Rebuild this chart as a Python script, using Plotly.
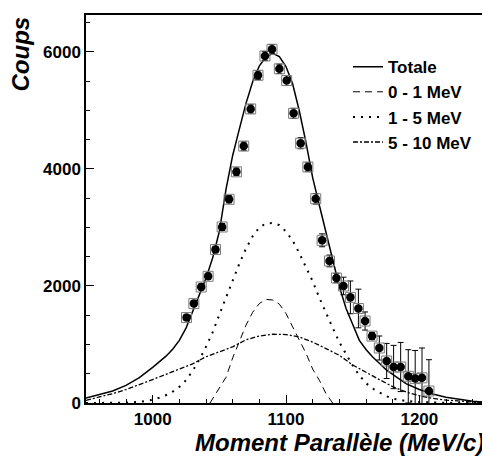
import plotly.graph_objects as go

# ---------------- data ----------------
data_x = [1025.4, 1030.9, 1036.4, 1041.6, 1047.1, 1052.1, 1057.3, 1062.8, 1068.3, 1073.5,
          1079.0, 1084.2, 1089.5, 1095.0, 1100.5, 1105.7, 1111.0, 1116.4, 1122.3, 1127.1,
          1132.6, 1137.8, 1143.1, 1148.3, 1154.3, 1159.3, 1164.5, 1170.0, 1175.5, 1180.7,
          1186.0, 1191.7, 1196.9, 1202.0, 1207.2]
data_y = [1460, 1699, 1982, 2165, 2622, 3008, 3481, 3950, 4390, 5025,
          5600, 5930, 6045, 5710, 5510, 4950, 4440, 4033, 3490, 2780,
          2427, 2136, 2000, 1805, 1615, 1401, 1143, 940, 718, 615,
          615, 456, 417, 430, 205]
data_err = [45, 50, 50, 55, 55, 60, 60, 65, 70, 70,
            75, 75, 78, 80, 85, 85, 95, 70, 90, 110,
            100, 80, 150, 280, 330, 155, 60, 205, 300, 370,
            420, 455, 480, 510, 535]

totale_x = [950, 960, 970, 980, 990, 1000, 1010, 1015, 1020, 1025, 1030, 1035, 1040, 1045,
            1050, 1055, 1060, 1065, 1070, 1075, 1080, 1085, 1090, 1095, 1100, 1105, 1110,
            1115, 1120, 1125, 1130, 1135, 1140, 1145, 1150, 1155, 1160, 1165, 1170, 1175,
            1180, 1190, 1200, 1210, 1220, 1230, 1240, 1250]
totale_y = [85, 145, 205, 300, 435, 610, 800, 920, 1070, 1280, 1560, 1860, 2130, 2480,
            2930, 3650, 4230, 4680, 5120, 5490, 5760, 5910, 5975, 5920, 5750, 5450, 4990,
            4450, 3850, 3380, 2900, 2450, 1990, 1620, 1330, 1070, 915, 786, 680, 570,
            490, 332, 230, 155, 100, 60, 30, 12]

bin01_x = [1043, 1050, 1055, 1060, 1065, 1070, 1075, 1080, 1085, 1090, 1095, 1100, 1105,
           1110, 1115, 1120, 1125, 1130, 1135]
bin01_y = [0, 250, 440, 770, 1060, 1330, 1550, 1700, 1770, 1760, 1690, 1530, 1300,
           1080, 850, 580, 390, 160, 0]

bin15_x = [950, 970, 980, 990, 998, 1005, 1013, 1020, 1025, 1030, 1035, 1040, 1045, 1050,
           1055, 1060, 1065, 1070, 1075, 1080, 1085, 1090, 1095, 1100, 1105, 1110, 1115,
           1120, 1125, 1130, 1135, 1140, 1145, 1150, 1155, 1160, 1165, 1170, 1175, 1180,
           1190, 1200, 1210, 1220, 1250]
bin15_y = [0, 2, 5, 20, 46, 90, 160, 275, 390, 550, 740, 960, 1210, 1510,
           1800, 2100, 2380, 2640, 2850, 3000, 3070, 3075, 3040, 2930, 2775, 2560, 2330,
           2080, 1800, 1530, 1285, 1040, 830, 640, 470, 340, 246, 180, 120, 75,
           35, 15, 5, 2, 0]

bin510_x = [950, 960, 970, 980, 990, 1000, 1010, 1020, 1030, 1040, 1050, 1060, 1070, 1080,
            1090, 1095, 1100, 1110, 1120, 1130, 1140, 1150, 1160, 1170, 1180, 1190, 1200,
            1210, 1220, 1230, 1240, 1250]
bin510_y = [46, 100, 160, 230, 310, 400, 490, 580, 670, 790, 880, 960, 1080, 1145,
            1175, 1178, 1170, 1128, 1040, 930, 815, 650, 520, 400, 280, 188, 125,
            80, 50, 28, 18, 10]

x_ticks = [1000, 1100, 1200]
y_ticks = [0, 2000, 4000, 6000]

FONT = "Liberation Sans"

fig = go.Figure()

fig.add_trace(go.Scatter(x=totale_x, y=totale_y, mode="lines", name="Totale",
                         line=dict(color="black", width=1.5)))
fig.add_trace(go.Scatter(x=bin01_x, y=bin01_y, mode="lines", name="0 - 1 MeV",
                         line=dict(color="black", width=1, dash="7px,5px")))
fig.add_trace(go.Scatter(x=bin15_x, y=bin15_y, mode="lines", name="1 - 5 MeV",
                         line=dict(color="black", width=2, dash="2px,6px")))
fig.add_trace(go.Scatter(x=bin510_x, y=bin510_y, mode="lines", name="5 - 10 MeV",
                         line=dict(color="black", width=1.3, dash="5px,2px,2px,2px")))

# data points
fig.add_trace(go.Scatter(x=data_x, y=data_y, mode="markers", showlegend=False,
                         marker=dict(symbol="square", size=10, color="rgba(0,0,0,0)",
                                     line=dict(color="#7a7a7a", width=1)),
                         error_y=dict(type="data", array=data_err, color="black",
                                      thickness=1, width=3)))
fig.add_trace(go.Scatter(x=data_x, y=data_y, mode="markers", showlegend=False,
                         marker=dict(symbol="circle", size=8.5, color="black")))

# the page body has an 8px margin: the figure is sized to fit the 490x458 window
fig.update_layout(
    width=482, height=450,
    margin=dict(l=78, r=2, t=7, b=55),
    paper_bgcolor="white", plot_bgcolor="white",
    font=dict(family=FONT, color="black"),
    legend=dict(x=0.655, y=0.912, xanchor="left", yanchor="top",
                bgcolor="rgba(0,0,0,0)", font=dict(family=FONT, size=17, weight="bold"),
                tracegroupgap=0),
    xaxis=dict(range=[950, 1250], tickvals=x_ticks, ticktext=[str(v) for v in x_ticks],
               ticks="inside", ticklen=8, tickwidth=1, tickcolor="black",
               minor=dict(dtick=20, ticks="inside", ticklen=4, tickcolor="black"),
               showline=True, linecolor="black", linewidth=1.5, mirror=True,
               showgrid=False, zeroline=False,
               tickfont=dict(family=FONT, size=17, weight="bold")),
    yaxis=dict(range=[0, 6630], tickvals=y_ticks, ticktext=[str(v) for v in y_ticks],
               ticks="inside", ticklen=8, tickwidth=1, tickcolor="black",
               minor=dict(dtick=500, ticks="inside", ticklen=4, tickcolor="black"),
               showline=True, linecolor="black", linewidth=1.5, mirror=True,
               showgrid=False, zeroline=False,
               tickfont=dict(family=FONT, size=17, weight="bold")),
    annotations=[
        dict(text="Moment Parallèle (MeV/c)", xref="paper", yref="paper",
             x=1.0, y=-0.062, xanchor="right", yanchor="top", showarrow=False,
             font=dict(family=FONT, size=24, weight="bold", style="italic")),
        dict(text="Coups", xref="paper", yref="paper", textangle=-90,
             x=-0.165, y=1.0, xanchor="center", yanchor="top", showarrow=False,
             font=dict(family=FONT, size=24, weight="bold", style="italic")),
    ],
)

fig.write_html("out.html")
